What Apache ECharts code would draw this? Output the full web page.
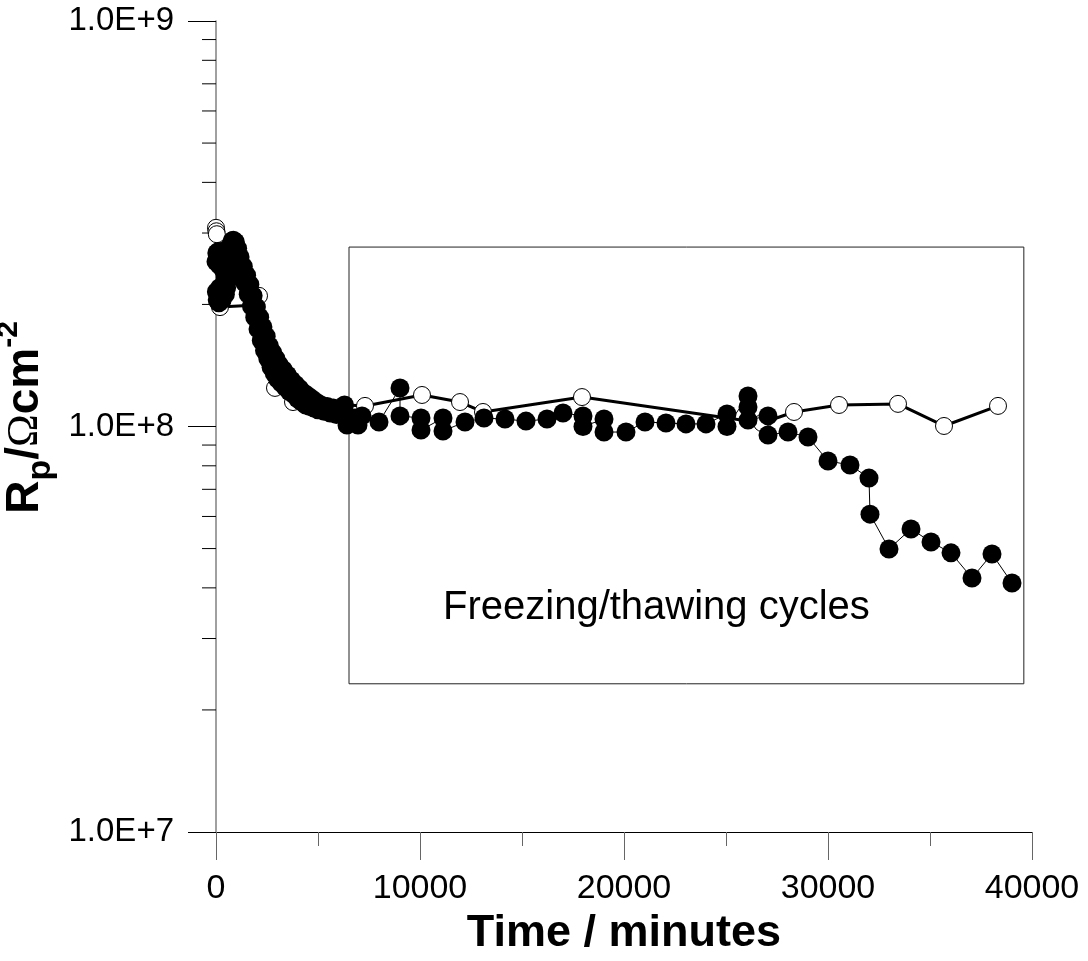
<!DOCTYPE html>
<html>
<head>
<meta charset="utf-8">
<script src="https://cdn.jsdelivr.net/npm/echarts@6/dist/echarts.min.js"></script>
<style>
html,body{margin:0;padding:0;background:#fff;}
#c{width:1088px;height:961px;}
</style>
</head>
<body>
<div id="c"></div>
<script>
// ---- data (time in minutes, Rp in ohm cm^2) ----
const openSeries = [
  [0, 3.09e8], [20, 3.03e8], [40, 2.98e8], [196, 1.97e8], [1765, 1.99e8], [2108, 2.10e8],
  [2892, 1.245e8], [3775, 1.149e8], [7304, 1.124e8], [10098, 1.196e8], [11961, 1.149e8],
  [13088, 1.086e8], [17941, 1.182e8], [26765, 1.02e8], [28334, 1.086e8], [30540, 1.13e8],
  [33432, 1.137e8], [35687, 1.003e8], [38334, 1.124e8]
];
const filledSeries = [
  [0, 2.55e8], [20, 2.15e8], [40, 2.68e8], [60, 2.05e8], [80, 2.6e8], [100, 2.1e8],
  [120, 2.7e8], [140, 2.02e8], [160, 2.5e8], [180, 2.2e8], [200, 2.65e8], [220, 2.08e8],
  [240, 2.58e8], [260, 2.12e8], [280, 2.7e8], [300, 2.05e8], [320, 2.45e8], [340, 2.15e8],
  [360, 2.62e8], [380, 2.1e8], [400, 2.55e8], [420, 2.2e8], [440, 2.4e8], [460, 2.12e8],
  [480, 2.3e8], [520, 2.2e8], [560, 2.4e8], [600, 2.3e8], [640, 2.6e8], [680, 2.5e8],
  [720, 2.8e8], [760, 2.7e8], [800, 2.87e8], [850, 2.88e8], [900, 2.8e8], [950, 2.85e8],
  [1000, 2.7e8], [1060, 2.75e8], [1100, 2.55e8], [1180, 2.62e8], [1260, 2.4e8], [1340, 2.48e8],
  [1420, 2.26e8], [1500, 2.36e8], [1580, 2.12e8], [1660, 2.24e8], [1740, 1.98e8], [1820, 2.1e8],
  [1900, 1.86e8], [1980, 1.97e8], [2060, 1.74e8], [2140, 1.86e8], [2220, 1.63e8], [2300, 1.76e8],
  [2380, 1.54e8], [2460, 1.67e8], [2540, 1.47e8], [2620, 1.58e8], [2700, 1.4e8], [2780, 1.52e8],
  [2860, 1.35e8], [2940, 1.47e8], [3020, 1.31e8], [3100, 1.42e8], [3200, 1.28e8], [3300, 1.38e8],
  [3400, 1.25e8], [3500, 1.34e8], [3600, 1.22e8], [3700, 1.3e8], [3800, 1.2e8], [3900, 1.27e8],
  [4000, 1.17e8], [4100, 1.24e8], [4200, 1.15e8], [4300, 1.21e8], [4400, 1.13e8], [4500, 1.19e8],
  [4600, 1.12e8], [4700, 1.17e8], [4800, 1.11e8], [4900, 1.15e8], [5000, 1.1e8], [5150, 1.13e8],
  [5300, 1.09e8], [5450, 1.12e8], [5600, 1.08e8], [5750, 1.11e8], [5900, 1.07e8], [6050, 1.1e8],
  [6225, 1.08e8], [6300, 1.13e8], [6422, 1.009e8], [6520, 1.049e8], [6814, 1.049e8],
  [6961, 1.009e8], [7157, 1.062e8], [7990, 1.026e8], [9020, 1.244e8], [9020, 1.062e8],
  [10049, 1.049e8], [10049, 9.80e7], [11128, 1.049e8], [11128, 9.75e7], [12206, 1.026e8],
  [13137, 1.049e8], [14167, 1.043e8], [15196, 1.031e8], [16226, 1.043e8], [17010, 1.080e8],
  [17990, 1.062e8], [17990, 1.00e8], [19020, 1.043e8], [19020, 9.69e7], [20098, 9.69e7],
  [21030, 1.026e8], [22059, 1.020e8], [23039, 1.015e8], [24020, 1.015e8], [25049, 1.074e8],
  [25049, 1.0e8], [26079, 1.189e8], [26079, 1.117e8], [26079, 1.037e8], [27059, 1.062e8],
  [27059, 9.53e7], [28039, 9.69e7], [29020, 9.42e7], [30000, 8.22e7], [31079, 8.04e7],
  [32010, 7.46e7], [32059, 6.08e7], [32990, 4.99e7], [34069, 5.59e7], [35049, 5.19e7],
  [36029, 4.88e7], [37059, 4.23e7], [38039, 4.85e7], [39020, 4.11e7]
];
const boxCorners = [[6520, 2.77e8], [39600, 2.32e7]];
const boxText = 'Freezing/thawing cycles';
const yMinorTicks = [2e7, 3e7, 4e7, 5e7, 6e7, 7e7, 8e7, 9e7, 2e8, 3e8, 4e8, 5e8, 6e8, 7e8, 8e8, 9e8];
const xTitle = 'Time / minutes';

const FONT = 'Liberation Sans, Arial, sans-serif';
const chart = echarts.init(document.getElementById('c'), null, {renderer: 'canvas'});
chart.setOption({
  backgroundColor: '#fff',
  animation: false,
  grid: {left: 216, right: 56, top: 21, bottom: 129, containLabel: false, outerBoundsMode: 'none'},
  xAxis: {
    type: 'value', min: 0, max: 40000, interval: 10000,
    name: xTitle, nameLocation: 'middle', nameGap: 60,
    nameTextStyle: {fontFamily: FONT, fontSize: 45, fontWeight: 'bold', color: '#000'},
    axisLine: {show: true, onZero: false, lineStyle: {color: '#000', width: 1}},
    axisTick: {show: true, inside: false, length: 28, lineStyle: {color: '#666'}},
    minorTick: {show: true, splitNumber: 2, length: 14, lineStyle: {color: '#666'}},
    axisLabel: {fontFamily: FONT, fontSize: 34, color: '#000', margin: 40,
      formatter: function (v) { return String(v); }},
    splitLine: {show: false}
  },
  yAxis: {
    type: 'log', logBase: 10, min: 1e7, max: 1e9,
    name: '{b|R}{sub|p}{b|/}{om|Ω}{b|cm}{sup|-2}',
    nameLocation: 'middle', nameRotate: 90, nameGap: 146,
    nameTextStyle: {
      fontFamily: FONT, fontSize: 46, fontWeight: 'bold', color: '#000',
      padding: [0, 0, 0, 18],
      rich: {
        b: {fontFamily: FONT, fontSize: 46, fontWeight: 'bold', lineHeight: 64, verticalAlign: 'middle'},
        sub: {fontFamily: FONT, fontSize: 34, fontWeight: 'bold', lineHeight: 64, verticalAlign: 'bottom'},
        sup: {fontFamily: FONT, fontSize: 30, fontWeight: 'bold', lineHeight: 64, verticalAlign: 'top'},
        om: {fontFamily: 'Liberation Serif, serif', fontSize: 44, fontWeight: 'normal', lineHeight: 64, verticalAlign: 'middle'}
      }
    },
    axisLine: {show: true, lineStyle: {color: '#808080', width: 1.5}},
    axisTick: {show: true, inside: false, length: 28, lineStyle: {color: '#000'}},
    minorTick: {show: false},
    axisLabel: {fontFamily: FONT, fontSize: 33, color: '#000', margin: 42,
      formatter: function (v) { return '1.0E+' + Math.round(Math.log10(v)); }},
    splitLine: {show: false}
  },
  graphic: [{
    type: 'text', left: 443, top: 588,
    style: {text: boxText, font: '40px ' + FONT, fill: '#000'}
  }],
  series: [
    {
      type: 'custom', name: 'minorTicks', clip: false, silent: true, z: 1,
      data: yMinorTicks,
      encode: {y: 0},
      renderItem: function (params, api) {
        const p = api.coord([0, api.value(0)]);
        return {type: 'line', shape: {x1: p[0] - 14, y1: p[1], x2: p[0], y2: p[1]},
          style: {stroke: '#000', lineWidth: 1}};
      }
    },
    {
      type: 'line', name: 'open', data: openSeries, z: 3,
      symbol: 'circle', symbolSize: 17, showSymbol: true,
      itemStyle: {color: '#fff', borderColor: '#000', borderWidth: 1},
      lineStyle: {color: '#000', width: 3},
      markArea: {
        silent: true,
        itemStyle: {color: 'rgba(0,0,0,0)', borderColor: '#222', borderWidth: 1},
        data: [[{xAxis: boxCorners[0][0], yAxis: boxCorners[0][1]}, {xAxis: boxCorners[1][0], yAxis: boxCorners[1][1]}]]
      }
    },
    {
      type: 'line', name: 'filled', data: filledSeries, z: 4,
      symbol: 'circle', symbolSize: 19, showSymbol: true,
      itemStyle: {color: '#000', borderColor: '#000', borderWidth: 0},
      lineStyle: {color: '#000', width: 1}
    }
  ]
});
</script>
</body>
</html>
